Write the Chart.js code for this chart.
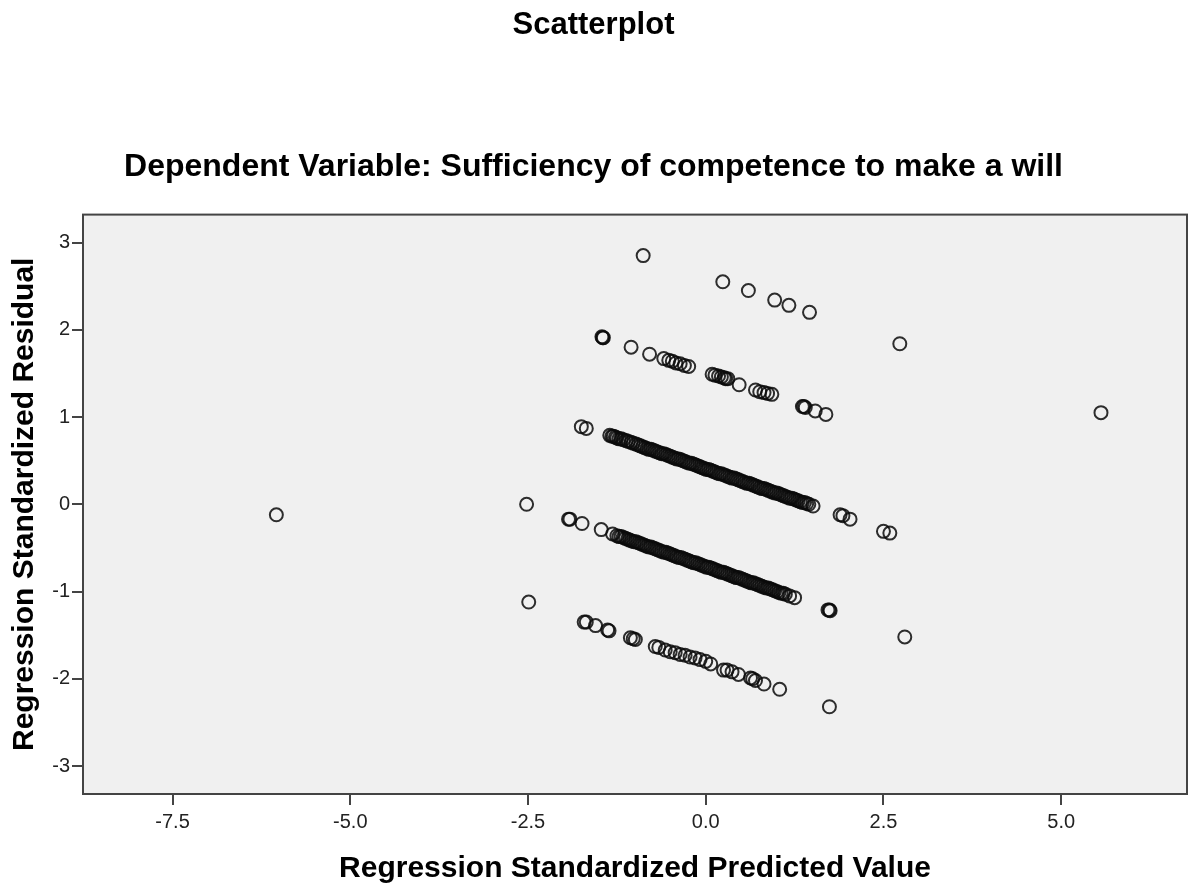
<!DOCTYPE html>
<html>
<head>
<meta charset="utf-8">
<style>
  html, body { margin: 0; padding: 0; background: #ffffff; }
  #wrap { width: 1200px; height: 892px; }
  canvas { display: block; }
</style>
<script src="https://cdn.jsdelivr.net/npm/chart.js@4.4.1/dist/chart.umd.min.js"></script>
</head>
<body>
<div id="wrap"><canvas id="c" width="1200" height="892"></canvas></div>
<script>
// ---- Data ----
const chartTitle = 'Scatterplot';
const chartSubtitle = 'Dependent Variable: Sufficiency of competence to make a will';
const xAxisTitle = 'Regression Standardized Predicted Value';
const yAxisTitle = 'Regression Standardized Residual';

const xTicks = [-7.5, -5.0, -2.5, 0.0, 2.5, 5.0];
const yTicks = [-3, -2, -1, 0, 1, 2, 3];
const xRange = [-8.76, 6.77];
const yRange = [-3.32, 3.32];

// [predicted, residual] pairs, grouped by residual band
const band1 = [[-0.88,2.85],[0.24,2.55],[0.60,2.45],[0.97,2.34],[1.17,2.28],[1.46,2.20],[2.73,1.84],[5.56,1.05]];

const band2 = [[-1.46,1.92],[-1.45,1.91],[-1.44,1.91],[-1.05,1.80],[-0.79,1.72],[-0.59,1.67],[-0.52,1.65],
  [-0.47,1.64],[-0.42,1.62],[-0.36,1.61],[-0.30,1.59],[-0.24,1.58],[0.09,1.49],[0.13,1.48],[0.18,1.47],
  [0.22,1.46],[0.26,1.45],[0.28,1.44],[0.31,1.44],[0.47,1.37],[0.70,1.31],[0.76,1.29],[0.82,1.28],
  [0.87,1.27],[0.93,1.26],[1.36,1.12],[1.38,1.12],[1.40,1.11],[1.54,1.07],[1.69,1.03]];

const band3 = [[-1.75,0.89],[-1.68,0.87],[-1.35,0.79],[-1.30,0.78],[-1.25,0.76],[-1.19,0.75],[-1.12,0.73],
  [-1.05,0.71],[-0.98,0.69],[-0.92,0.67],[-0.86,0.65],[-0.80,0.63],[-0.74,0.62],[-0.68,0.60],[-0.62,0.58],
  [-0.56,0.57],[-0.50,0.55],[-0.44,0.53],[-0.38,0.52],[-0.32,0.50],[-0.26,0.48],[-0.20,0.47],[-0.14,0.45],
  [-0.08,0.43],[-0.02,0.41],[0.04,0.40],[0.10,0.38],[0.16,0.36],[0.22,0.35],[0.28,0.33],[0.34,0.31],
  [0.40,0.30],[0.46,0.28],[0.52,0.26],[0.58,0.24],[0.64,0.23],[0.70,0.21],[0.76,0.19],[0.82,0.18],
  [0.88,0.16],[0.94,0.14],[1.00,0.13],[1.06,0.11],[1.12,0.09],[1.18,0.07],[1.24,0.06],[1.30,0.04],
  [1.36,0.02],[1.42,0.01],[1.51,-0.02],[1.89,-0.12],[1.93,-0.13],[2.03,-0.17],[2.50,-0.31],[2.59,-0.33],
  [-1.32,0.78],[-1.27,0.77],[-1.22,0.75],[-1.16,0.74],[-1.09,0.72],[-1.02,0.70],[-0.95,0.68],[-0.89,0.66],
  [-0.83,0.64],[-0.77,0.63],[-0.71,0.61],[-0.65,0.59],[-0.59,0.58],[-0.53,0.56],[-0.47,0.54],[-0.41,0.52],
  [-0.35,0.51],[-0.29,0.49],[-0.23,0.47],[-0.17,0.46],[-0.11,0.44],[-0.05,0.42],[0.01,0.40],[0.07,0.39],
  [0.13,0.37],[0.19,0.35],[0.25,0.34],[0.31,0.32],[0.37,0.30],[0.43,0.29],[0.49,0.27],[0.55,0.25],
  [0.61,0.24],[0.67,0.22],[0.73,0.20],[0.79,0.18],[0.85,0.17],[0.91,0.15],[0.97,0.13],[1.03,0.12],
  [1.09,0.10],[1.15,0.08],[1.21,0.07],[1.27,0.05],[1.33,0.03],[1.39,0.02],[1.45,0.00]];

const band4 = [[-2.52,0.00],[-1.93,-0.17],[-1.91,-0.17],[-1.74,-0.22],[-1.47,-0.29],[-1.31,-0.34],
  [-1.25,-0.36],[-1.19,-0.37],[-1.13,-0.39],[-1.07,-0.41],[-1.01,-0.43],[-0.95,-0.44],[-0.89,-0.46],
  [-0.83,-0.48],[-0.77,-0.49],[-0.71,-0.51],[-0.65,-0.53],[-0.59,-0.55],[-0.53,-0.56],[-0.47,-0.58],
  [-0.41,-0.60],[-0.35,-0.61],[-0.29,-0.63],[-0.23,-0.65],[-0.17,-0.67],[-0.11,-0.68],[-0.05,-0.70],
  [0.01,-0.72],[0.07,-0.73],[0.13,-0.75],[0.19,-0.77],[0.25,-0.78],[0.31,-0.80],[0.37,-0.82],[0.43,-0.84],
  [0.49,-0.85],[0.55,-0.87],[0.61,-0.89],[0.67,-0.90],[0.73,-0.92],[0.79,-0.94],[0.85,-0.96],[0.91,-0.97],
  [0.97,-0.99],[1.03,-1.01],[1.09,-1.02],[1.25,-1.07],[1.72,-1.21],[1.74,-1.21],[1.75,-1.22],[2.80,-1.52],
  [-1.22,-0.37],[-1.16,-0.38],[-1.10,-0.40],[-1.04,-0.42],[-0.98,-0.43],[-0.92,-0.45],[-0.86,-0.47],
  [-0.80,-0.49],[-0.74,-0.50],[-0.68,-0.52],[-0.62,-0.54],[-0.56,-0.55],[-0.50,-0.57],[-0.44,-0.59],
  [-0.38,-0.61],[-0.32,-0.62],[-0.26,-0.64],[-0.20,-0.66],[-0.14,-0.67],[-0.08,-0.69],[-0.02,-0.71],
  [0.04,-0.72],[0.10,-0.74],[0.16,-0.76],[0.22,-0.78],[0.28,-0.79],[0.34,-0.81],[0.40,-0.83],[0.46,-0.84],
  [0.52,-0.86],[0.58,-0.88],[0.64,-0.90],[0.70,-0.91],[0.76,-0.93],[0.82,-0.95],[0.88,-0.96],[0.94,-0.98],
  [1.00,-1.00],[1.06,-1.02],[1.12,-1.03],[1.18,-1.05]];

const band5 = [[-6.04,-0.12],[-2.49,-1.12],[-1.71,-1.35],[-1.68,-1.35],[-1.55,-1.39],[-1.38,-1.44],
  [-1.36,-1.45],[-1.06,-1.53],[-1.02,-1.54],[-0.99,-1.55],[-0.71,-1.63],[-0.66,-1.64],[-0.57,-1.67],
  [-0.50,-1.69],[-0.43,-1.70],[-0.36,-1.72],[-0.29,-1.73],[-0.22,-1.75],[-0.15,-1.76],[-0.08,-1.78],
  [0.00,-1.80],[0.07,-1.83],[0.25,-1.90],[0.30,-1.90],[0.37,-1.92],[0.46,-1.95],[0.63,-1.99],[0.66,-2.00],
  [0.70,-2.02],[0.82,-2.06],[1.04,-2.12],[1.74,-2.32]];

const allPoints = [...band1, ...band2, ...band3, ...band4, ...band5].map(([x, y]) => ({ x, y }));

// ---- Styling ----
const FONT = "'Liberation Sans', Arial, Helvetica, sans-serif";
const PLOT_BG = '#f0f0f0';
const FRAME = '#444444';

const plotFrame = {
  id: 'plotFrame',
  beforeDraw(chart) {
    const { ctx, chartArea: a } = chart;
    ctx.save();
    ctx.fillStyle = '#ffffff';
    ctx.fillRect(0, 0, chart.width, chart.height);
    ctx.fillStyle = PLOT_BG;
    ctx.fillRect(a.left, a.top, a.right - a.left, a.bottom - a.top);
    ctx.restore();
  },
  afterDraw(chart) {
    const { ctx, chartArea: a } = chart;
    ctx.save();
    ctx.strokeStyle = FRAME;
    ctx.lineWidth = 2;
    ctx.strokeRect(a.left, a.top, a.right - a.left, a.bottom - a.top);
    ctx.restore();
  }
};

new Chart(document.getElementById('c'), {
  type: 'scatter',
  data: {
    datasets: [{
      label: 'Residuals',
      data: allPoints,
      pointStyle: 'circle',
      pointRadius: 6.5,
      pointHoverRadius: 6.5,
      borderWidth: 2,
      borderColor: 'rgba(10,10,10,0.85)',
      backgroundColor: 'rgba(0,0,0,0)'
    }]
  },
  options: {
    responsive: false,
    devicePixelRatio: 1,
    animation: false,
    layout: { padding: { left: 0, right: 13, top: 0, bottom: 0 } },
    plugins: {
      legend: { display: false },
      tooltip: { enabled: false },
      title: {
        display: true,
        text: chartTitle,
        color: '#000',
        font: { family: FONT, size: 31, weight: 'bold' },
        padding: { top: 7, bottom: 0 }
      },
      subtitle: {
        display: true,
        text: chartSubtitle,
        color: '#000',
        font: { family: FONT, size: 32, weight: 'bold' },
        padding: { top: 104, bottom: 28 }
      }
    },
    scales: {
      x: {
        type: 'linear',
        min: xRange[0],
        max: xRange[1],
        afterBuildTicks: (s) => { s.ticks = xTicks.map(v => ({ value: v })); },
        afterFit: (s) => { s.height = 98; },
        border: { display: false },
        grid: { display: true, drawOnChartArea: false, drawTicks: true, tickLength: 11, color: FRAME, lineWidth: 2 },
        ticks: {
          padding: 5,
          color: '#222',
          font: { family: FONT, size: 20 },
          callback: (v) => Number(v).toFixed(1)
        },
        title: {
          display: true,
          text: xAxisTitle,
          color: '#000',
          font: { family: FONT, size: 30, weight: 'bold' },
          padding: { top: 0, bottom: 5 }
        }
      },
      y: {
        type: 'linear',
        min: yRange[0],
        max: yRange[1],
        afterBuildTicks: (s) => { s.ticks = yTicks.map(v => ({ value: v })); },
        afterFit: (s) => { s.width = 83; },
        border: { display: false },
        grid: { display: true, drawOnChartArea: false, drawTicks: true, tickLength: 11, color: FRAME, lineWidth: 2 },
        ticks: {
          padding: 2,
          color: '#222',
          font: { family: FONT, size: 20 },
          callback: (v) => String(v)
        },
        title: {
          display: true,
          text: yAxisTitle,
          color: '#000',
          font: { family: FONT, size: 30, weight: 'bold' },
          padding: { top: 7, bottom: 0 }
        }
      }
    }
  },
  plugins: [plotFrame]
});
</script>
</body>
</html>
